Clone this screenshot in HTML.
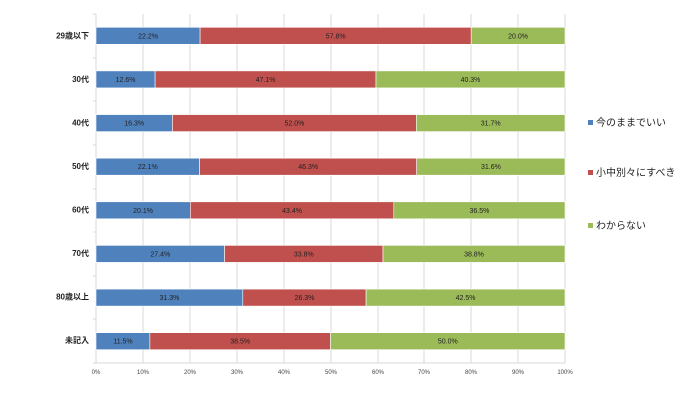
<!DOCTYPE html>
<html><head><meta charset="utf-8"><style>
html,body{margin:0;padding:0;background:#fff;}
svg{display:block;font-family:"Liberation Sans","Noto Sans CJK JP",sans-serif;}
</style></head><body>
<svg width="700" height="420" viewBox="0 0 700 420" xmlns="http://www.w3.org/2000/svg">
<g stroke="#d9d9d9" stroke-width="1">
<line x1="143" y1="14" x2="143" y2="363"/><line x1="190" y1="14" x2="190" y2="363"/>
<line x1="237" y1="14" x2="237" y2="363"/><line x1="284" y1="14" x2="284" y2="363"/>
<line x1="331" y1="14" x2="331" y2="363"/><line x1="378" y1="14" x2="378" y2="363"/>
<line x1="424" y1="14" x2="424" y2="363"/><line x1="471" y1="14" x2="471" y2="363"/>
<line x1="518" y1="14" x2="518" y2="363"/><line x1="565" y1="14" x2="565" y2="363"/>
<line x1="96" y1="14" x2="96" y2="363"/>
<line x1="96" y1="363" x2="565" y2="363"/>
<line x1="93" y1="14" x2="96" y2="14"/><line x1="93" y1="58" x2="96" y2="58"/>
<line x1="93" y1="101" x2="96" y2="101"/><line x1="93" y1="145" x2="96" y2="145"/>
<line x1="93" y1="189" x2="96" y2="189"/><line x1="93" y1="232" x2="96" y2="232"/>
<line x1="93" y1="276" x2="96" y2="276"/><line x1="93" y1="319" x2="96" y2="319"/>
<line x1="93" y1="363" x2="96" y2="363"/>
</g>
<g stroke="#fff" stroke-width="0.6">
<rect x="96" y="27.3" width="104.1" height="17" fill="#4f81bd"/><rect x="200.1" y="27.3" width="271.1" height="17" fill="#c0504d"/><rect x="471.2" y="27.3" width="93.8" height="17" fill="#9bbb59"/>
<rect x="96" y="70.9" width="59.1" height="17" fill="#4f81bd"/><rect x="155.1" y="70.9" width="220.9" height="17" fill="#c0504d"/><rect x="376" y="70.9" width="189" height="17" fill="#9bbb59"/>
<rect x="96" y="114.6" width="76.4" height="17" fill="#4f81bd"/><rect x="172.4" y="114.6" width="243.9" height="17" fill="#c0504d"/><rect x="416.3" y="114.6" width="148.7" height="17" fill="#9bbb59"/>
<rect x="96" y="158.2" width="103.6" height="17" fill="#4f81bd"/><rect x="199.6" y="158.2" width="217.1" height="17" fill="#c0504d"/><rect x="416.7" y="158.2" width="148.3" height="17" fill="#9bbb59"/>
<rect x="96" y="201.8" width="94.3" height="17" fill="#4f81bd"/><rect x="190.3" y="201.8" width="203.5" height="17" fill="#c0504d"/><rect x="393.8" y="201.8" width="171.2" height="17" fill="#9bbb59"/>
<rect x="96" y="245.4" width="128.5" height="17" fill="#4f81bd"/><rect x="224.5" y="245.4" width="158.5" height="17" fill="#c0504d"/><rect x="383" y="245.4" width="182" height="17" fill="#9bbb59"/>
<rect x="96" y="289.1" width="146.8" height="17" fill="#4f81bd"/><rect x="242.8" y="289.1" width="123.3" height="17" fill="#c0504d"/><rect x="366.1" y="289.1" width="198.9" height="17" fill="#9bbb59"/>
<rect x="96" y="332.7" width="53.9" height="17" fill="#4f81bd"/><rect x="149.9" y="332.7" width="180.6" height="17" fill="#c0504d"/><rect x="330.5" y="332.7" width="234.5" height="17" fill="#9bbb59"/>
</g>
<g font-size="7" text-anchor="middle" fill="#222">
<text x="148.1" y="38.3">22.2%</text><text x="335.7" y="38.3">57.8%</text><text x="518.1" y="38.3">20.0%</text>
<text x="125.6" y="81.9">12.6%</text><text x="265.6" y="81.9">47.1%</text><text x="470.5" y="81.9">40.3%</text>
<text x="134.2" y="125.6">16.3%</text><text x="294.4" y="125.6">52.0%</text><text x="490.7" y="125.6">31.7%</text>
<text x="147.8" y="169.2">22.1%</text><text x="308.2" y="169.2">46.3%</text><text x="490.9" y="169.2">31.6%</text>
<text x="143.1" y="212.8">20.1%</text><text x="292.1" y="212.8">43.4%</text><text x="479.4" y="212.8">36.5%</text>
<text x="160.3" y="256.4">27.4%</text><text x="303.8" y="256.4">33.8%</text><text x="474" y="256.4">38.8%</text>
<text x="169.4" y="300.1">31.3%</text><text x="304.5" y="300.1">26.3%</text><text x="465.6" y="300.1">42.5%</text>
<text x="123" y="343.7">11.5%</text><text x="240.2" y="343.7">38.5%</text><text x="447.8" y="343.7">50.0%</text>
</g>
<g font-size="6" fill="#444" text-anchor="middle">
<text x="96" y="374">0%</text><text x="143" y="374">10%</text><text x="190" y="374">20%</text>
<text x="237" y="374">30%</text><text x="284" y="374">40%</text><text x="331" y="374">50%</text>
<text x="378" y="374">60%</text><text x="424" y="374">70%</text><text x="471" y="374">80%</text>
<text x="518" y="374">90%</text><text x="565" y="374">100%</text>
</g>
<g font-size="8" font-weight="bold" fill="#222" text-anchor="end">
<text x="89" y="38.5">29歳以下</text><text x="89" y="82">30代</text><text x="89" y="125.5">40代</text>
<text x="89" y="169">50代</text><text x="89" y="212.5">60代</text><text x="89" y="256">70代</text>
<text x="89" y="299.5">80歳以上</text><text x="89" y="343">未記入</text>
</g>
<rect x="588" y="120" width="5" height="5" fill="#4f81bd"/>
<rect x="588" y="170" width="5" height="5" fill="#c0504d"/>
<rect x="588" y="223" width="5" height="5" fill="#9bbb59"/>
<g font-size="10" fill="#222">
<text x="596" y="126">今のままでいい</text>
<text x="596" y="176">小中別々にすべき</text>
<text x="596" y="229">わからない</text>
</g>
</svg>
</body></html>
